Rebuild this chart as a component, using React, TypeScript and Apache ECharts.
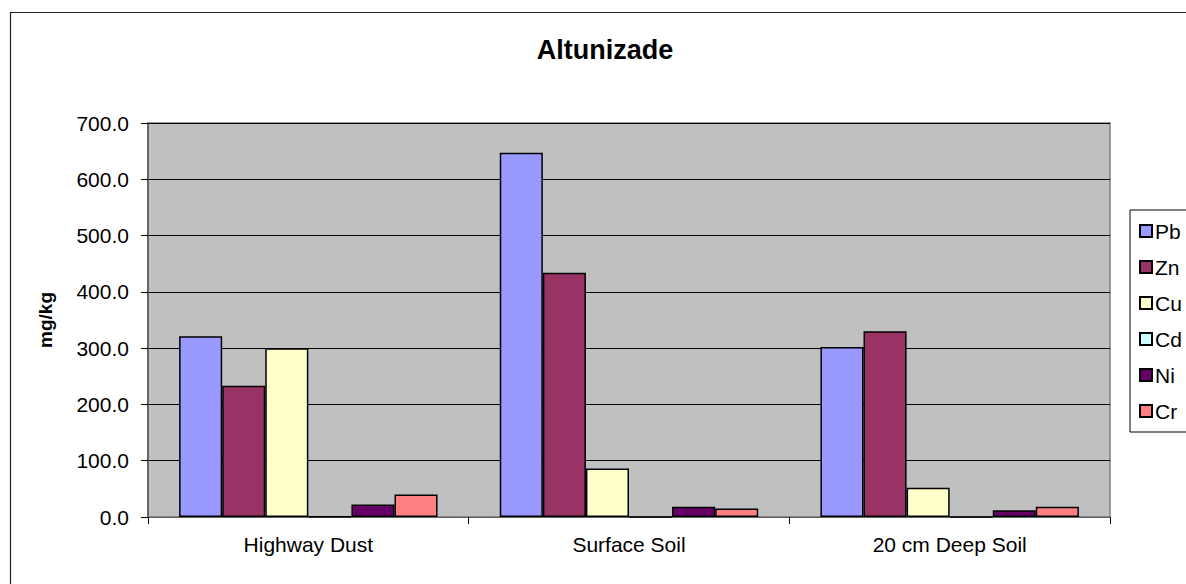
import React, { useEffect, useRef } from "react";
import * as echarts from "echarts";

const categories = ["Highway Dust", "Surface Soil", "20 cm Deep Soil"];
const seriesNames = ["Pb", "Zn", "Cu", "Cd", "Ni", "Cr"];
const pbValues = [321, 647, 302];
const znValues = [233, 434, 330];
const cuValues = [300, 86, 52];
const cdValues = [0.5, 0.4, 0.3];
const niValues = [22, 18, 12];
const crValues = [40, 15, 18];
const seriesColors = ["#9999FF", "#993366", "#FFFFCC", "#CCFFFF", "#660066", "#FF8080"];
const yTicks = { min: 0, max: 700, interval: 100 };

const FONT = "'Liberation Sans', Arial, sans-serif";

export default function App() {
  const ref = useRef<HTMLDivElement>(null);
  useEffect(() => {
    if (!ref.current) return;
    const chart = echarts.init(ref.current, undefined, { renderer: "svg" });
    const values = [pbValues, znValues, cuValues, cdValues, niValues, crValues];
    chart.setOption({
      animation: false,
      backgroundColor: "#ffffff",
      textStyle: { fontFamily: FONT },
      title: {
        text: "Altunizade",
        left: 605,
        textAlign: "center",
        top: 36,
        padding: 0,
        textStyle: { fontFamily: FONT, fontSize: 27, fontWeight: "bold", color: "#000" },
      },
      graphic: [
        {
          type: "rect",
          shape: { x: 10.5, y: 12.5, width: 1300, height: 700 },
          style: { fill: "none", stroke: "#222", lineWidth: 1.2 },
          silent: true,
        },
      ],
      legend: {
        orient: "vertical",
        left: 1130,
        top: 210,
        padding: [10, 10, 10, 9],
        itemGap: 14,
        itemWidth: 12,
        itemHeight: 12,
        icon: "rect",
        borderColor: "#000",
        borderWidth: 1,
        backgroundColor: "#ffffff",
        data: seriesNames,
        textStyle: { fontFamily: FONT, fontSize: 21, color: "#000", lineHeight: 22, padding: [0, 0, 0, -2] },
      },
      grid: {
        left: 148,
        right: 76,
        top: 123,
        bottom: 67,
        show: true,
        backgroundColor: "#C0C0C0",
        borderColor: "#808080",
        borderWidth: 1.5,
      },
      xAxis: {
        type: "category",
        data: categories,
        axisLine: { lineStyle: { color: "#808080", width: 1.5 } },
        axisTick: { show: true, length: 7, lineStyle: { color: "#000", width: 1 } },
        axisLabel: { fontFamily: FONT, fontSize: 21, color: "#000", margin: 17 },
      },
      yAxis: {
        type: "value",
        min: yTicks.min,
        max: yTicks.max,
        interval: yTicks.interval,
        name: "mg/kg",
        nameLocation: "middle",
        nameGap: 93,
        nameTextStyle: { fontFamily: FONT, fontSize: 19, fontWeight: "bold", color: "#000" },
        axisLine: { show: true, lineStyle: { color: "#555", width: 1.5 } },
        axisTick: { show: true, length: 7, lineStyle: { color: "#000", width: 1 } },
        axisLabel: {
          fontFamily: FONT,
          fontSize: 21,
          color: "#000",
          margin: 19,
          formatter: (v: number) => v.toFixed(1),
        },
        splitLine: { show: true, lineStyle: { color: "#000", width: 1 } },
      },
      series: seriesNames.map((name, i) => ({
        name,
        type: "bar",
        data: values[i],
        barGap: "0%",
        barCategoryGap: "19.4%",
        itemStyle: { color: seriesColors[i], borderColor: "#000", borderWidth: 1.5 },
      })),
    });
    return () => chart.dispose();
  }, []);
  return (
    <div
      ref={ref}
      style={{ position: "fixed", left: 0, top: 0, width: 1186, height: 584, background: "#fff" }}
    />
  );
}
